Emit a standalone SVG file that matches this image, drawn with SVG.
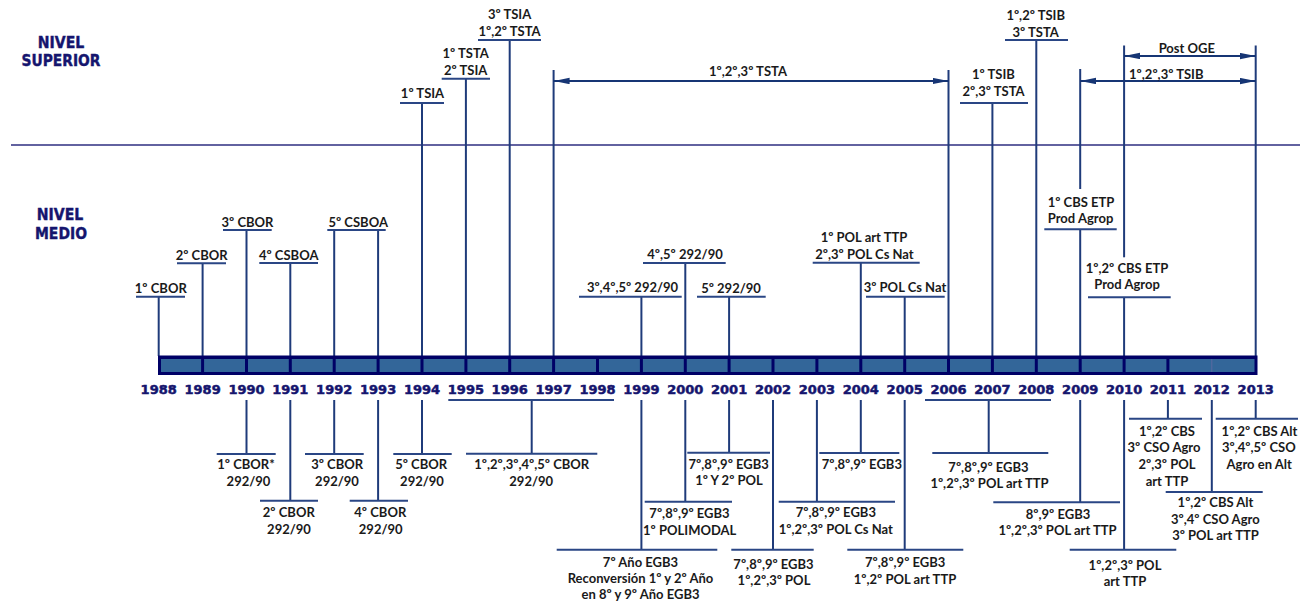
<svg xmlns="http://www.w3.org/2000/svg" width="1300" height="602" viewBox="0 0 1300 602">
<defs>
<style>
.lb{font-family:Lato,"Open Sans","Liberation Sans",sans-serif;font-weight:bold;font-size:13px;fill:#1a1a1a;text-anchor:middle}
.yr{font-family:"DejaVu Sans",Lato,sans-serif;font-weight:bold;font-size:13px;fill:#15156e;stroke:#15156e;stroke-width:0.5;text-anchor:middle}
.nv{font-family:"DejaVu Sans",Lato,sans-serif;font-weight:bold;font-size:15px;fill:#15156e;stroke:#15156e;stroke-width:0.4;text-anchor:middle}
.ln{stroke:#1f3b7a;stroke-width:2;fill:none}
.ul{stroke:#2a4685;stroke-width:2;fill:none}
.ar{stroke:#163574;stroke-width:2;fill:none;marker-start:url(#ah);marker-end:url(#ah)}
.dv{stroke:#000066;stroke-width:3}
</style>
<marker id="ah" markerUnits="userSpaceOnUse" markerWidth="16" markerHeight="7" refX="16" refY="3.2" orient="auto-start-reverse">
<path d="M0,0 L16,3.2 L0,6.4 Z" fill="#163574"/>
</marker>
</defs>
<rect width="1300" height="602" fill="#ffffff"/>

<g id="titles">
<text class="nv" x="61" y="47.5" textLength="46.5" lengthAdjust="spacingAndGlyphs">NIVEL</text>
<text class="nv" x="61" y="65.5" textLength="79" lengthAdjust="spacingAndGlyphs">SUPERIOR</text>
<text class="nv" x="60" y="219.5" textLength="46.5" lengthAdjust="spacingAndGlyphs">NIVEL</text>
<text class="nv" x="61" y="238.5" textLength="52" lengthAdjust="spacingAndGlyphs">MEDIO</text>
<line x1="11" y1="145" x2="1300" y2="145" stroke="#2e2e80" stroke-width="1.5"/>
</g>

<g id="connectors">
<line class="ln" x1="158.7" y1="356" x2="158.7" y2="296.7"/>
<line class="ln" x1="202.6" y1="356" x2="202.6" y2="263.3"/>
<line class="ln" x1="246.5" y1="356" x2="246.5" y2="230"/>
<line class="ln" x1="290.3" y1="356" x2="290.3" y2="263"/>
<line class="ln" x1="334.2" y1="356" x2="334.2" y2="230"/>
<line class="ln" x1="378.1" y1="356" x2="378.1" y2="230"/>
<line class="ln" x1="422" y1="356" x2="422" y2="103"/>
<line class="ln" x1="465.9" y1="356" x2="465.9" y2="78.7"/>
<line class="ln" x1="509.7" y1="356" x2="509.7" y2="40"/>
<line class="ln" x1="553.6" y1="356" x2="553.6" y2="70"/>
<line class="ln" x1="641.4" y1="356" x2="641.4" y2="296.7"/>
<line class="ln" x1="685.3" y1="356" x2="685.3" y2="263"/>
<line class="ln" x1="729.1" y1="356" x2="729.1" y2="296.7"/>
<line class="ln" x1="860.8" y1="356" x2="860.8" y2="262.7"/>
<line class="ln" x1="904.7" y1="356" x2="904.7" y2="296.7"/>
<line class="ln" x1="948.5" y1="356" x2="948.5" y2="70"/>
<line class="ln" x1="992.4" y1="356" x2="992.4" y2="103"/>
<line class="ln" x1="1036.3" y1="356" x2="1036.3" y2="40"/>
<line class="ln" x1="1080.2" y1="356" x2="1080.2" y2="229.3"/>
<line class="ln" x1="1080.2" y1="189" x2="1080.2" y2="69"/>
<line class="ln" x1="1124.1" y1="356" x2="1124.1" y2="297.3"/>
<line class="ln" x1="1124.1" y1="257.3" x2="1124.1" y2="45.5"/>
<line class="ln" x1="1255.7" y1="356" x2="1255.7" y2="45.5"/>
<line class="ar" x1="553.6" y1="81" x2="948.5" y2="81"/>
<line class="ar" x1="1080.2" y1="81" x2="1255.7" y2="81"/>
<line class="ar" x1="1124.1" y1="56" x2="1255.7" y2="56"/>
<line class="ln" x1="246.5" y1="400" x2="246.5" y2="454"/>
<line class="ln" x1="290.3" y1="400" x2="290.3" y2="500.7"/>
<line class="ln" x1="334.2" y1="400" x2="334.2" y2="454"/>
<line class="ln" x1="378.1" y1="400" x2="378.1" y2="500.7"/>
<line class="ln" x1="422" y1="400" x2="422" y2="454"/>
<line class="ln" x1="531.7" y1="400" x2="531.7" y2="453.7"/>
<line class="ln" x1="641.4" y1="400" x2="641.4" y2="549.7"/>
<line class="ln" x1="685.3" y1="400" x2="685.3" y2="501.7"/>
<line class="ln" x1="729.1" y1="400" x2="729.1" y2="452.7"/>
<line class="ln" x1="773" y1="400" x2="773" y2="549.7"/>
<line class="ln" x1="816.9" y1="400" x2="816.9" y2="501.7"/>
<line class="ln" x1="860.8" y1="400" x2="860.8" y2="453"/>
<line class="ln" x1="904.7" y1="400" x2="904.7" y2="549.7"/>
<line class="ln" x1="988.7" y1="400" x2="988.7" y2="453"/>
<line class="ln" x1="1080.2" y1="400" x2="1080.2" y2="502.3"/>
<line class="ln" x1="1124.1" y1="400" x2="1124.1" y2="549.7"/>
<line class="ln" x1="1167.9" y1="400" x2="1167.9" y2="418.7"/>
<line class="ln" x1="1211.8" y1="400" x2="1211.8" y2="492"/>
<line class="ln" x1="1255.7" y1="400" x2="1255.7" y2="418.7"/>
</g>

<g id="timeline">
<rect x="158" y="355.5" width="1099.5" height="19.5" fill="#000066"/>
<rect x="161" y="359" width="1093.5" height="13" fill="#336699"/>
<line class="dv" x1="202.6" y1="358" x2="202.6" y2="373"/>
<line class="dv" x1="246.5" y1="358" x2="246.5" y2="373"/>
<line class="dv" x1="290.3" y1="358" x2="290.3" y2="373"/>
<line class="dv" x1="334.2" y1="358" x2="334.2" y2="373"/>
<line class="dv" x1="378.1" y1="358" x2="378.1" y2="373"/>
<line class="dv" x1="422" y1="358" x2="422" y2="373"/>
<line class="dv" x1="465.9" y1="358" x2="465.9" y2="373"/>
<line class="dv" x1="509.7" y1="358" x2="509.7" y2="373"/>
<line class="dv" x1="553.6" y1="358" x2="553.6" y2="373"/>
<line class="dv" x1="597.5" y1="358" x2="597.5" y2="373"/>
<line class="dv" x1="641.4" y1="358" x2="641.4" y2="373"/>
<line class="dv" x1="685.3" y1="358" x2="685.3" y2="373"/>
<line class="dv" x1="729.1" y1="358" x2="729.1" y2="373"/>
<line class="dv" x1="773" y1="358" x2="773" y2="373"/>
<line class="dv" x1="816.9" y1="358" x2="816.9" y2="373"/>
<line class="dv" x1="860.8" y1="358" x2="860.8" y2="373"/>
<line class="dv" x1="904.7" y1="358" x2="904.7" y2="373"/>
<line class="dv" x1="948.5" y1="358" x2="948.5" y2="373"/>
<line class="dv" x1="992.4" y1="358" x2="992.4" y2="373"/>
<line class="dv" x1="1036.3" y1="358" x2="1036.3" y2="373"/>
<line class="dv" x1="1080.2" y1="358" x2="1080.2" y2="373"/>
<line class="dv" x1="1124.1" y1="358" x2="1124.1" y2="373"/>
<line class="dv" x1="1167.9" y1="358" x2="1167.9" y2="373"/>
<line x1="1211.8" y1="359" x2="1211.8" y2="372" stroke="#5a6aa0" stroke-width="1"/>
<text class="yr" x="158.7" y="393.5">1988</text>
<text class="yr" x="202.6" y="393.5">1989</text>
<text class="yr" x="246.5" y="393.5">1990</text>
<text class="yr" x="290.3" y="393.5">1991</text>
<text class="yr" x="334.2" y="393.5">1992</text>
<text class="yr" x="378.1" y="393.5">1993</text>
<text class="yr" x="422" y="393.5">1994</text>
<text class="yr" x="465.9" y="393.5">1995</text>
<text class="yr" x="509.7" y="393.5">1996</text>
<text class="yr" x="553.6" y="393.5">1997</text>
<text class="yr" x="597.5" y="393.5">1998</text>
<text class="yr" x="641.4" y="393.5">1999</text>
<text class="yr" x="685.3" y="393.5">2000</text>
<text class="yr" x="729.1" y="393.5">2001</text>
<text class="yr" x="773" y="393.5">2002</text>
<text class="yr" x="816.9" y="393.5">2003</text>
<text class="yr" x="860.8" y="393.5">2004</text>
<text class="yr" x="904.7" y="393.5">2005</text>
<text class="yr" x="948.5" y="393.5">2006</text>
<text class="yr" x="992.4" y="393.5">2007</text>
<text class="yr" x="1036.3" y="393.5">2008</text>
<text class="yr" x="1080.2" y="393.5">2009</text>
<text class="yr" x="1124.1" y="393.5">2010</text>
<text class="yr" x="1167.9" y="393.5">2011</text>
<text class="yr" x="1211.8" y="393.5">2012</text>
<text class="yr" x="1255.7" y="393.5">2013</text>
</g>

<g id="sup-1994"><line class="ul" x1="400" y1="103" x2="444" y2="103"/><text class="lb" x="422.5" y="97.7">1º TSIA</text></g>
<g id="sup-1995"><line class="ul" x1="441.7" y1="78.7" x2="490" y2="78.7"/><text class="lb" x="465.7" y="58.3">1º TSTA</text><text class="lb" x="465.7" y="75">2º TSIA</text></g>
<g id="sup-1996"><line class="ul" x1="478" y1="40" x2="541" y2="40"/><text class="lb" x="509.6" y="19">3º TSIA</text><text class="lb" x="509.6" y="35.7">1º,2º TSTA</text></g>
<g id="sup-tsta"><text class="lb" x="748" y="75.5">1º,2º,3º TSTA</text></g>
<g id="sup-2007"><line class="ul" x1="960" y1="103" x2="1028" y2="103"/><text class="lb" x="993.5" y="79">1º TSIB</text><text class="lb" x="993.5" y="96">2º,3º TSTA</text></g>
<g id="sup-2008"><line class="ul" x1="1005" y1="40" x2="1068" y2="40"/><text class="lb" x="1035.7" y="19.5">1º,2º TSIB</text><text class="lb" x="1035.7" y="36.5">3º TSTA</text></g>
<g id="sup-postoge"><text class="lb" x="1186.8" y="53">Post OGE</text></g>
<g id="sup-tsib"><text class="lb" x="1166.3" y="79">1º,2º,3º TSIB</text></g>

<g id="med-1988"><line class="ul" x1="136" y1="296.7" x2="185" y2="296.7"/><text class="lb" x="160.8" y="293.3">1º CBOR</text></g>
<g id="med-1989"><line class="ul" x1="177" y1="263.3" x2="226" y2="263.3"/><text class="lb" x="201.7" y="260">2º CBOR</text></g>
<g id="med-1990"><line class="ul" x1="223" y1="230" x2="271.7" y2="230"/><text class="lb" x="247.5" y="227">3º CBOR</text></g>
<g id="med-1991"><line class="ul" x1="259.3" y1="263" x2="318" y2="263"/><text class="lb" x="288.7" y="259.5">4º CSBOA</text></g>
<g id="med-1992"><line class="ul" x1="327.3" y1="230" x2="385.7" y2="230"/><text class="lb" x="358.2" y="227">5º CSBOA</text></g>
<g id="med-1999"><line class="ul" x1="579" y1="296.7" x2="681.7" y2="296.7"/><text class="lb" x="632.5" y="292">3º,4º,5º 292/90</text></g>
<g id="med-2000"><line class="ul" x1="643" y1="263" x2="725.7" y2="263"/><text class="lb" x="685" y="258.5">4º,5º 292/90</text></g>
<g id="med-2001"><line class="ul" x1="697" y1="296.7" x2="765.7" y2="296.7"/><text class="lb" x="731" y="292.5">5º 292/90</text></g>
<g id="med-2004"><line class="ul" x1="812.7" y1="262.7" x2="919.7" y2="262.7"/><text class="lb" x="864" y="242">1º POL art TTP</text><text class="lb" x="864.5" y="259">2º,3º POL Cs Nat</text></g>
<g id="med-2005"><line class="ul" x1="866" y1="296.7" x2="944.7" y2="296.7"/><text class="lb" x="905" y="292">3º POL Cs Nat</text></g>
<g id="med-2009"><line class="ul" x1="1044.3" y1="229.3" x2="1116.7" y2="229.3"/><text class="lb" x="1081" y="206.5">1º CBS ETP</text><text class="lb" x="1080.5" y="222.5">Prod Agrop</text></g>
<g id="med-2010"><line class="ul" x1="1088" y1="297.3" x2="1170.7" y2="297.3"/><text class="lb" x="1127" y="273">1º,2º CBS ETP</text><text class="lb" x="1127" y="289">Prod Agrop</text></g>

<g id="low-1990"><line class="ul" x1="216.7" y1="454" x2="275.7" y2="454"/><text class="lb" x="246" y="469">1º CBOR*</text><text class="lb" x="248.5" y="486">292/90</text></g>
<g id="low-1991"><line class="ul" x1="260" y1="500.7" x2="318" y2="500.7"/><text class="lb" x="288.8" y="517">2º CBOR</text><text class="lb" x="289" y="533.7">292/90</text></g>
<g id="low-1992"><line class="ul" x1="305" y1="454" x2="363.7" y2="454"/><text class="lb" x="337.2" y="469">3º CBOR</text><text class="lb" x="337" y="486">292/90</text></g>
<g id="low-1993"><line class="ul" x1="349.7" y1="500.7" x2="408" y2="500.7"/><text class="lb" x="380.3" y="517">4º CBOR</text><text class="lb" x="380.7" y="533.7">292/90</text></g>
<g id="low-1994"><line class="ul" x1="393.3" y1="454" x2="451.7" y2="454"/><text class="lb" x="421.2" y="469">5º CBOR</text><text class="lb" x="422" y="486">292/90</text></g>
<g id="low-1995-1998"><line class="ul" x1="448.3" y1="400" x2="614" y2="400"/><line class="ul" x1="466" y1="453.7" x2="597.3" y2="453.7"/><text class="lb" x="531.7" y="469">1º,2º,3º,4º,5º CBOR</text><text class="lb" x="531.2" y="486">292/90</text></g>
<g id="low-1999"><line class="ul" x1="556.7" y1="549.7" x2="717.3" y2="549.7"/><text class="lb" x="640.5" y="566.5">7º Año EGB3</text><text class="lb" x="640.5" y="582.8">Reconversión 1º y 2º Año</text><text class="lb" x="640.5" y="599">en 8º y 9º Año EGB3</text></g>
<g id="low-2000"><line class="ul" x1="644.7" y1="501.7" x2="732" y2="501.7"/><text class="lb" x="689.5" y="518">7º,8º,9º EGB3</text><text class="lb" x="689.7" y="535">1º POLIMODAL</text></g>
<g id="low-2001"><line class="ul" x1="687.3" y1="452.7" x2="770" y2="452.7"/><text class="lb" x="728.7" y="468.5">7º,8º,9º EGB3</text><text class="lb" x="729" y="485">1º Y 2º POL</text></g>
<g id="low-2002"><line class="ul" x1="731.3" y1="549.7" x2="813.7" y2="549.7"/><text class="lb" x="773.5" y="568.5">7º,8º,9º EGB3</text><text class="lb" x="774" y="585">1º,2º,3º POL</text></g>
<g id="low-2003"><line class="ul" x1="778.7" y1="501.7" x2="895" y2="501.7"/><text class="lb" x="835.8" y="517.3">7º,8º,9º EGB3</text><text class="lb" x="835.8" y="534">1º,2º,3º POL Cs Nat</text></g>
<g id="low-2004"><line class="ul" x1="819.3" y1="453" x2="899.3" y2="453"/><text class="lb" x="861.8" y="469">7º,8º,9º EGB3</text></g>
<g id="low-2005"><line class="ul" x1="847.3" y1="549.7" x2="963.3" y2="549.7"/><text class="lb" x="905.2" y="567.3">7º,8º,9º EGB3</text><text class="lb" x="905" y="584">1º,2º POL art TTP</text></g>
<g id="low-2006-2008"><line class="ul" x1="925" y1="400" x2="1051" y2="400"/><line class="ul" x1="932.3" y1="453" x2="1048.3" y2="453"/><text class="lb" x="988.5" y="471.5">7º,8º,9º EGB3</text><text class="lb" x="989.5" y="488">1º,2º,3º POL art TTP</text></g>
<g id="low-2009"><line class="ul" x1="993.3" y1="502.3" x2="1120" y2="502.3"/><text class="lb" x="1058" y="518.5">8º,9º EGB3</text><text class="lb" x="1057.5" y="535">1º,2º,3º POL art TTP</text></g>
<g id="low-2010"><line class="ul" x1="1069.7" y1="549.7" x2="1176.3" y2="549.7"/><text class="lb" x="1125" y="569.5">1º,2º,3º POL</text><text class="lb" x="1125" y="586">art TTP</text></g>
<g id="low-2011"><line class="ul" x1="1129" y1="418.7" x2="1202" y2="418.7"/><text class="lb" x="1167" y="435.5">1º,2º CBS</text><text class="lb" x="1164" y="452">3º CSO Agro</text><text class="lb" x="1167" y="469">2º,3º POL</text><text class="lb" x="1167" y="486">art TTP</text></g>
<g id="low-2012"><line class="ul" x1="1165.7" y1="492" x2="1262.7" y2="492"/><text class="lb" x="1215.5" y="506.5">1º,2º CBS Alt</text><text class="lb" x="1215.3" y="523.5">3º,4º CSO Agro</text><text class="lb" x="1215.5" y="540">3º POL art TTP</text></g>
<g id="low-2013"><line class="ul" x1="1215.7" y1="418.7" x2="1298" y2="418.7"/><text class="lb" x="1259.5" y="435.5">1º,2º CBS Alt</text><text class="lb" x="1258.8" y="452">3º,4º,5º CSO</text><text class="lb" x="1259.2" y="469">Agro en Alt</text></g>
</svg>
